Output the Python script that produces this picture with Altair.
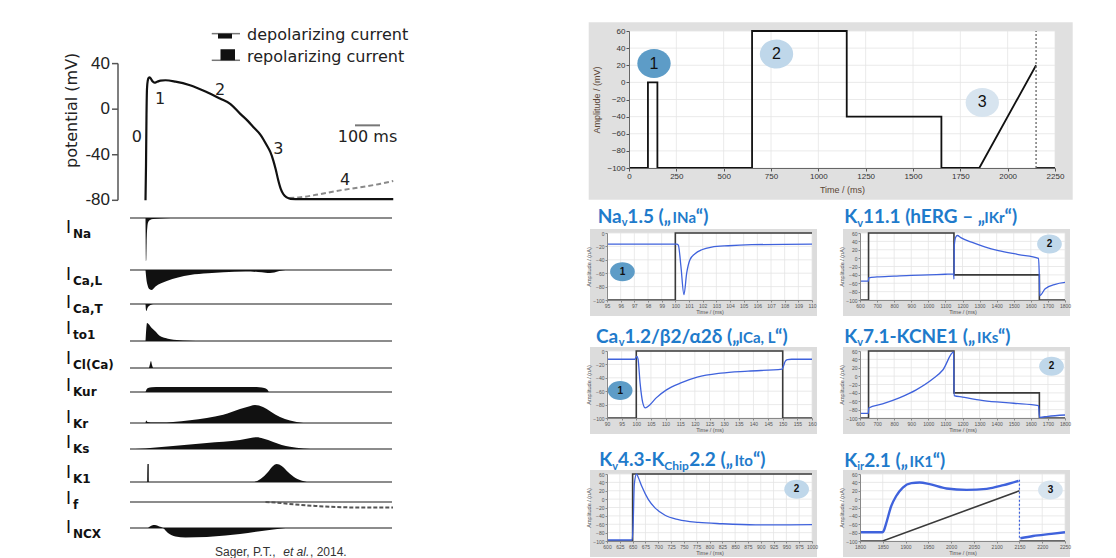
import altair as alt
import pandas as pd

# ============================ DATA ============================
# ---- Left: ventricular action potential (t in ms, v in mV)
AP_T = [0, 2, 4, 6, 9, 13, 17, 22, 28, 36, 46, 60, 80, 120, 178, 240, 298, 340, 378, 410, 431, 460, 485, 500, 511, 521, 531, 541, 551, 565, 580, 620, 991]
AP_V = [-80, -50, -5, 18, 25, 27.5, 28, 26.5, 24.5, 23.3, 24, 25, 25.4, 24.2, 21, 15.5, 9.3, 4.5, -3.9, -10.5, -15.6, -22.5, -31.7, -38, -44.9, -53, -62.4, -70, -74.5, -77.5, -78.7, -79, -79]
AP4_T = [575, 620, 700, 778, 860, 940, 991]
AP4_V = [-78, -77.3, -74.5, -71.3, -68.5, -65.5, -63]
PHASE_TXT = ["0", "1", "2", "3", "4"]
PHASE_T = [-35, 58, 298, 531, 798]
PHASE_V = [-24.4, 9.3, 16.6, -34.6, -62.5]
AP_TICKS = [-80, -40, 0, 40]
AP_TITLE = "potential (mV)"
LEG_TXT = ["depolarizing current", "repolarizing current"]
LEG_T = [406, 406]
LEG_V = [64.8, 45.5]
LEG_LINE_V = [66.3, 42.9]
LEG_BOX_T1 = [290, 300]
LEG_BOX_T2 = [346, 358]
LEG_BOX_V1 = [66.3, 52.6]
LEG_BOX_V2 = [62.0, 42.9]
SCALEBAR_T = [838, 938]
SCALEBAR_V = -14.2
SCALEBAR_TXT = "100 ms"

# ---- Left: ionic currents (amplitude, + = outward/up)
CUR_NAMES = ["Na", "Ca,L", "Ca,T", "to1", "Cl(Ca)", "Kur", "Kr", "Ks", "K1", "f", "NCX"]
CUR_BASE = [17, 69, 103, 140, 167, 191, 222, 248, 281, 301, 327]
CUR_LABEL_U = [27, 74, 102, 128, 158, 185, 217, 242, 272, 298, 327]
INA_T = [0, 1.5, 3, 4.5, 7, 11, 18, 30, 60, 100]
INA_A = [0, -43, -42, -25, -10, -4, -2, -1, -0.4, 0]
ICAL_T = [0, 3, 8, 15, 25, 40, 60, 85, 130, 178, 250, 312, 400, 450, 480, 498, 515, 535, 560]
ICAL_A = [0, -8, -15, -19, -20, -16.5, -13.5, -11, -7.5, -5, -3.3, -2.3, -1.6, -2, -2.7, -3, -2.5, -1, 0]
ICAT_T = [0, 2, 4, 8, 14, 22, 32]
ICAT_A = [0, -6, -7, -4, -2, -0.7, 0]
ITO_T = [0, 3, 6, 12, 25, 38, 58, 80, 100, 150, 200]
ITO_A = [0, 12, 18, 17, 13, 10, 5, 3, 1.7, 0.5, 0]
ICLCA_T = [14, 18, 22, 26, 30]
ICLCA_A = [0, 4, 7, 3, 0]
IKUR_T = [0, 4, 10, 25, 60, 200, 400, 455, 475, 487, 493]
IKUR_A = [0, 2.5, 4, 4.8, 5, 5, 5, 4.8, 4, 2.5, 0]
IKR_T = [0, 3, 8, 20, 60, 110, 178, 245, 311, 378, 420, 438, 470, 500, 538, 578, 631]
IKR_A = [0, 2.5, 1, 0.5, 0.4, 1, 2.7, 5, 8.3, 14, 17, 18, 16, 11.5, 6, 2.5, 0]
IKS_T = [-40, 0, 18, 110, 245, 378, 420, 445, 470, 511, 545, 578, 631, 660]
IKS_A = [0, 0.5, 1, 3, 6, 9, 11, 11.7, 10.5, 7, 4, 2.2, 0.5, 0]
IK1_T = [5, 7, 8, 13, 14, 16, 430, 460, 490, 510, 525, 545, 570, 600, 630, 645]
IK1_A = [0, 0, 18, 18, 0, 0, 0, 3, 10, 16, 18, 16, 10, 4, 1, 0]
IF_T = [480, 540, 600, 680, 760, 850, 990]
IF_A = [0, -1, -2.5, -4, -5, -5.5, -5.5]
INCX_T = [10, 25, 38, 55, 70, 90, 120, 160, 245, 320, 378, 450, 511, 560]
INCX_A = [0, 2.5, 3, 1.5, 0, -5, -8.5, -9.5, -9, -7.5, -6, -3.5, -1.5, 0]
CITE_TXT = ["Sager, P.T., ", "et al.", ", 2014."]
CITE_T = [278, 551, 658]

# ---- Right: voltage protocol
PROTO_T = [0, 100, 100, 150, 150, 650, 650, 1150, 1150, 1650, 1650, 1850, 2150]
PROTO_V = [-100, -100, 0, 0, -100, -100, 60, 60, -40, -40, -100, -100, 20]
PROTO_TAIL_T = [2150, 2250]
PROTO_TAIL_V = [-100, -100]
PROTO_XTICKS = list(range(0, 2251, 250))
PROTO_YTICKS = list(range(-100, 61, 20))
STEP_TXT = ["1", "2", "3"]
STEP_T = [132, 779, 1866]
STEP_V = [22, 33, -23.4]

# ---- Right: recorded currents
NA_T = [95, 100.1, 100.22, 100.41, 100.63, 100.83, 101.07, 101.44, 101.93, 102.66, 103.88, 105.59, 110]
NA_I = [-16.5, -16.5, -18, -50, -92, -60, -40, -31, -25, -21, -19, -17.5, -16.5]
NA_PT = [95, 100, 100, 110]
NA_PV = [-100, -100, 0, 0]
KR_T = [600, 649, 651, 700, 800, 900, 1000, 1100, 1148, 1150, 1152, 1160, 1170, 1190, 1253, 1330, 1410, 1528, 1645, 1650, 1652, 1684, 1743, 1800]
KR_I = [-55, -55, -47, -45, -43, -41, -40, -38.5, -38, -50, 30, 50, 54, 49, 38, 27, 18, 8.5, -0.5, -50, -90, -73, -62.4, -58]
KR_PT = [600, 650, 650, 1150, 1150, 1650, 1650, 1800]
KR_PV = [-100, -100, 60, 60, -40, -40, -100, -100]
CA_T = [90, 99.5, 100.2, 100.6, 101.3, 102.2, 103.1, 104.5, 106.8, 110.3, 115, 120.8, 128.9, 138.2, 149.8, 150.3, 150.9, 151.6, 153, 160]
CA_I = [-12.3, -12.3, -8, -12, -48, -77, -85, -81, -70, -58, -48, -39, -33, -30, -27, -22, -15, -13, -12.3, -12.3]
CA_PT = [90, 100, 100, 150, 150, 160]
CA_PV = [-100, -100, 0, 0, -100, -100]
KS_T = [600, 649, 651, 732, 830, 929, 1027, 1086, 1148, 1151, 1200, 1322, 1500, 1645, 1651, 1700, 1800]
KS_I = [-89, -89, -76, -66.4, -52, -32.8, -6.4, 15.2, 57.6, -46.4, -50, -58.4, -64.8, -70.4, -98.4, -96, -92.8]
KS_PT = [600, 650, 650, 1150, 1150, 1650, 1650, 1800]
KS_PV = [-100, -100, 60, 60, -40, -40, -100, -100]
TO_T = [600, 649, 651, 653.3, 657.6, 660.9, 667.4, 680.5, 693.6, 713.3, 739.4, 778.7, 824.5, 890, 955.5, 1000]
TO_I = [-97.6, -97.6, -60, 35.8, 60, 52, 31.7, -0.6, -20.8, -38.6, -49, -55.6, -58.8, -61.3, -61.3, -61]
TO_PT = [600, 650, 650, 1000]
TO_PV = [-100, -100, 60, 60]
K1_T = [1800, 1849, 1852, 1857, 1868.5, 1879.5, 1894, 1912.7, 1931, 1953, 1990, 2034, 2078, 2115, 2148]
K1_I = [-79, -79, -76, -59.6, -16.8, 7.5, 27.7, 38.2, 39.8, 35.8, 25.3, 22, 24.5, 33.4, 43.8]
K1_T2 = [2152, 2180, 2220, 2250]
K1_I2 = [-93.5, -88, -83, -79]
K1_JUMP_T = [2150, 2150]
K1_JUMP_I = [46, -94]
K1_PT = [1800, 1850, 2150]
K1_PV = [-100, -100, 20]
K1_PT2 = [2150, 2250]
K1_PV2 = [-100, -100]

# ============================ STYLE ============================
LEFT_FONT = "DejaVu Sans"
NUM_FONT = "Liberation Sans"
TITLE_FONT = "Lato"
BLUE = "#3f62dc"
TBLUE = "#1f7bcb"
GRAY_BOX = "#dcdcdc"
GRID = "#e4e4e4"
CIRC_FILL = {"1": "#5d9cc7", "2": "#bfd7ea", "3": "#d7e4ef"}
ELL_BIG = "M -1.15 0 A 1.15 1 0 1 1 1.15 0 A 1.15 1 0 1 1 -1.15 0 Z"
ELL_SMALL = "M -1.3 0 A 1.3 1 0 1 1 1.3 0 A 1.3 1 0 1 1 -1.3 0 Z"
# approximate advance widths (em) of Lato Bold, used to chain title pieces
LATO_W = {'N': 0.74, 'a': 0.52, 'v': 0.52, '1': 0.58, '2': 0.58, '3': 0.58, '4': 0.58, '5': 0.58,
          '7': 0.58, '.': 0.24, ' ': 0.19, '(': 0.32, ')': 0.32, '„': 0.47, '“': 0.47, 'I': 0.29,
          'K': 0.68, 'h': 0.57, 'E': 0.58, 'R': 0.63, 'G': 0.72, '–': 0.55, 'r': 0.38, 's': 0.43,
          '-': 0.36, 'C': 0.68, '/': 0.37, 'β': 0.58, 'α': 0.58, 'δ': 0.56, ',': 0.24, 'L': 0.52,
          'i': 0.26, 'p': 0.57, 't': 0.37, 'o': 0.57}
TSIZE = {"m": 19, "s": 11, "i": 15, "c": 12}
TDY = {"m": 0, "s": 3.5, "i": 0, "c": 4}


def seg_df(segments):
    rows = []
    for s, (ts, vs) in enumerate(segments):
        for i, (t, v) in enumerate(zip(ts, vs)):
            rows.append({"x": t, "y": v, "seg": s, "i": i})
    return pd.DataFrame(rows)


# ============================ LAYOUT ============================
TOP = 20
LEFT_X0 = 60
AP_TOP = 30.7
AP_BOTTOM = 200
RX0 = 606
PROTO_X, PROTO_Y = 628, AP_TOP
PW, PH = 426, 137
SW, SH = 205, 67
GAP = 48
ROW_Y = [232, 350, 473]
LEFT_EXT = 24
PAD_L, PAD_R, PAD_T, PAD_B = 40.3, 17.7, 8.7, 31.7
SPAD_L, SPAD_R, SPAD_T, SPAD_B = 17, 5, 4, 16

# ============================ LEFT PANEL ============================
LW, CUR_H = 370, 350
AP_H = AP_BOTTOM - AP_TOP
MS_PER_PX = 4
MV_PER_PX = 120 / 136.7
T_DOM = [-342, -342 + LW * MS_PER_PX]
apx = alt.Scale(domain=T_DOM, nice=False, zero=False)
apy = alt.Scale(domain=[-80, -80 + AP_H * MV_PER_PX], nice=False, zero=False)
AX_T = -110


def XT(f="t"):
    return alt.X(f + ":Q", scale=apx, axis=None)


def YV(f="v"):
    return alt.Y(f + ":Q", scale=apy, axis=None)


ax_df = pd.DataFrame({"v": AP_TICKS, "t0": [AX_T - 6 * MS_PER_PX] * 4, "t1": [AX_T] * 4,
                      "tl": [AX_T - 8 * MS_PER_PX] * 4, "lab": [str(v) for v in AP_TICKS]})
axis_rule = alt.Chart(pd.DataFrame({"t": [AX_T], "v": [AP_TICKS[0]], "v2": [AP_TICKS[-1]]})).mark_rule(
    color="#555", strokeWidth=1.5).encode(x=XT(), y=YV(), y2="v2:Q")
axis_ticks = alt.Chart(ax_df).mark_rule(color="#555", strokeWidth=1.5).encode(x=XT("t0"), x2="t1:Q", y=YV())
axis_labels = alt.Chart(ax_df).mark_text(font=NUM_FONT, fontSize=17, align="right", baseline="middle",
                                         color="#222").encode(x=XT("tl"), y=YV(), text="lab:N")
axis_title = alt.Chart(pd.DataFrame({"t": [-294], "v": [-1], "text": [AP_TITLE]})).mark_text(
    font=LEFT_FONT, fontSize=16, angle=270, align="center", baseline="middle", color="#222").encode(
    x=XT(), y=YV(), text="text:N")

ap4 = alt.Chart(pd.DataFrame({"t": AP4_T, "v": AP4_V})).mark_line(
    color="#8a8a8a", strokeWidth=2, strokeDash=[5, 3], interpolate="monotone").encode(x=XT(), y=YV())
ap_line = alt.Chart(pd.DataFrame({"t": AP_T, "v": AP_V})).mark_line(
    color="#111", strokeWidth=2.2, interpolate="monotone").encode(x=XT(), y=YV())

leg_df = pd.DataFrame({"t": LEG_T, "v": LEG_V, "text": LEG_TXT, "lv": LEG_LINE_V,
                       "b1": LEG_BOX_T1, "b2": LEG_BOX_T2, "bv1": LEG_BOX_V1, "bv2": LEG_BOX_V2,
                       "l1": [265, 265], "l2": [378, 378]})
leg_line = alt.Chart(leg_df).mark_rule(color="#777", strokeWidth=1.5).encode(x=XT("l1"), x2="l2:Q", y=YV("lv"))
leg_box = alt.Chart(leg_df).mark_rect(color="#111").encode(x=XT("b1"), x2="b2:Q", y=YV("bv1"), y2="bv2:Q")
leg_txt = alt.Chart(leg_df).mark_text(align="left", baseline="middle", font=LEFT_FONT, fontSize=16,
                                      color="#222").encode(x=XT(), y=YV(), text="text:N")

ph = alt.Chart(pd.DataFrame({"t": PHASE_T, "v": PHASE_V, "text": PHASE_TXT})).mark_text(
    font=LEFT_FONT, fontSize=16, color="#222", baseline="middle").encode(x=XT(), y=YV(), text="text:N")

sb_df = pd.DataFrame({"t": [SCALEBAR_T[0]], "t2": [SCALEBAR_T[1]], "v": [SCALEBAR_V],
                      "tm": [sum(SCALEBAR_T) / 2], "vt": [SCALEBAR_V - 10.5], "text": [SCALEBAR_TXT]})
sb = alt.Chart(sb_df).mark_rule(color="#777", strokeWidth=2).encode(x=XT(), x2="t2:Q", y=YV())
sb_txt = alt.Chart(sb_df).mark_text(font=LEFT_FONT, fontSize=16, color="#222", baseline="middle").encode(
    x=XT("tm"), y=YV("vt"), text="text:N")

ap_chart = alt.layer(axis_rule, axis_ticks, axis_labels, axis_title, ap4, ap_line, leg_line, leg_box,
                     leg_txt, ph, sb, sb_txt).properties(width=LW, height=AP_H)

# currents
cury = alt.Scale(domain=[CUR_H, 0], nice=False, zero=False)


def YU(f="u"):
    return alt.Y(f + ":Q", scale=cury, axis=None)


SHAPES = {"Na": (INA_T, INA_A), "Ca,L": (ICAL_T, ICAL_A), "Ca,T": (ICAT_T, ICAT_A),
          "to1": (ITO_T, ITO_A), "Cl(Ca)": (ICLCA_T, ICLCA_A), "Kur": (IKUR_T, IKUR_A),
          "Kr": (IKR_T, IKR_A), "Ks": (IKS_T, IKS_A), "K1": (IK1_T, IK1_A), "NCX": (INCX_T, INCX_A)}
rows = []
for name, base in zip(CUR_NAMES, CUR_BASE):
    if name not in SHAPES:
        continue
    ts, amps = SHAPES[name]
    for t, a in zip(ts, amps):
        rows.append({"name": name, "t": t, "u": base - a, "base": base})
cur_df = pd.DataFrame(rows)
n_cur = len(CUR_NAMES)
base_df = pd.DataFrame({"name": CUR_NAMES, "base": CUR_BASE, "t0": [-62] * n_cur, "t1": [986] * n_cur,
                        "lu": CUR_LABEL_U, "li": [-308] * n_cur, "ls": [-290] * n_cur, "I": ["I"] * n_cur})
if_base = CUR_BASE[CUR_NAMES.index("f")]
if_df = pd.DataFrame({"t": IF_T, "u": [if_base - a for a in IF_A]})

base_rules = alt.Chart(base_df).mark_rule(color="#8c8c8c", strokeWidth=2).encode(
    x=XT("t0"), x2="t1:Q", y=YU("base"))
areas = alt.Chart(cur_df).mark_area(color="#111", interpolate="monotone", opacity=1).encode(
    x=XT(), y=YU(), y2="base:Q", detail="name:N")
if_line = alt.Chart(if_df).mark_line(color="#555", strokeWidth=2, strokeDash=[4, 2],
                                     interpolate="monotone").encode(x=XT(), y=YU())
lab_i = alt.Chart(base_df).mark_text(font=LEFT_FONT, fontSize=17, baseline="middle", color="#111").encode(
    x=XT("li"), y=YU("lu"), text="I:N")
lab_s = alt.Chart(base_df).mark_text(font=LEFT_FONT, fontSize=12, fontWeight="bold", align="left",
                                     baseline="middle", dy=6, color="#111").encode(
    x=XT("ls"), y=YU("lu"), text="name:N")
cite_df = pd.DataFrame({"t": CITE_T, "u": [CUR_H + 1] * 3, "text": CITE_TXT, "it": [0, 1, 0]})
cite_n = alt.Chart(cite_df).transform_filter("datum.it == 0").mark_text(
    font=NUM_FONT, fontSize=12, align="left", baseline="middle", color="#333").encode(
    x=XT(), y=YU(), text="text:N")
cite_i = alt.Chart(cite_df).transform_filter("datum.it == 1").mark_text(
    font=NUM_FONT, fontSize=12, fontStyle="italic", align="left", baseline="middle", color="#333").encode(
    x=XT(), y=YU(), text="text:N")

cur_chart = alt.layer(base_rules, areas, if_line, lab_i, lab_s, cite_n, cite_i).properties(
    width=LW, height=CUR_H)

left_col = alt.vconcat(ap_chart, cur_chart, spacing=0, bounds="flush")

# ============================ RIGHT: PROTOCOL ============================
pxd, pyd = [0, 2250], [-100, 60]
ppx, ppy = PW / (pxd[1] - pxd[0]), PH / (pyd[1] - pyd[0])
pxs = alt.Scale(domain=pxd, nice=False, zero=False)
pys = alt.Scale(domain=pyd, nice=False, zero=False)
big_axis = dict(labelFont=NUM_FONT, labelFontSize=8, labelColor="#333", labelPadding=1, tickSize=3,
                tickColor="#555", domainColor="#666", grid=False, titleFont=NUM_FONT,
                titleFontSize=9, titleColor="#5a4535", titleFontWeight="normal", format="d",
                labelFlush=False, labelOverlap=False, zindex=1, titlePadding=5)
pxa = alt.Axis(values=PROTO_XTICKS, title="Time / (ms)", **big_axis)
pya = alt.Axis(values=PROTO_YTICKS, title="Amplitude / (mV)", **big_axis)


def PX(f):
    return alt.X(f + ":Q", scale=pxs, axis=pxa)


def PY(f):
    return alt.Y(f + ":Q", scale=pys, axis=pya)


def grid_layers(X, Y, xd, yd, xticks, yticks):
    gx = pd.DataFrame({"x": xticks, "y": [yd[0]] * len(xticks), "y2": [yd[1]] * len(xticks)})
    gy = pd.DataFrame({"y": yticks, "x": [xd[0]] * len(yticks), "x2": [xd[1]] * len(yticks)})
    return [alt.Chart(gx).mark_rule(color=GRID, strokeWidth=0.8).encode(x=X("x"), y=Y("y"), y2="y2:Q"),
            alt.Chart(gy).mark_rule(color=GRID, strokeWidth=0.8).encode(y=Y("y"), x=X("x"), x2="x2:Q")]


lead = PROTO_X - RX0
p_bg = alt.Chart(pd.DataFrame({"x": [pxd[0] - (LEFT_EXT + lead) / ppx], "x2": [pxd[1] + PAD_R / ppx],
                               "y": [pyd[0] - PAD_B / ppy], "y2": [pyd[1] + (PROTO_Y - TOP) / ppy]})).mark_rect(
    color="white").encode(x=PX("x"), x2="x2:Q", y=PY("y"), y2="y2:Q")
p_gray = alt.Chart(pd.DataFrame({"x": [pxd[0] - PAD_L / ppx], "x2": [pxd[1] + PAD_R / ppx],
                                 "y": [pyd[0] - PAD_B / ppy], "y2": [pyd[1] + PAD_T / ppy]})).mark_rect(
    color="#e0e0e0").encode(x=PX("x"), x2="x2:Q", y=PY("y"), y2="y2:Q")
p_white = alt.Chart(pd.DataFrame({"x": [pxd[0]], "x2": [pxd[1]], "y": [pyd[0]], "y2": [pyd[1]]})).mark_rect(
    color="white").encode(x=PX("x"), x2="x2:Q", y=PY("y"), y2="y2:Q")
p_line = alt.Chart(seg_df([(PROTO_T, PROTO_V), (PROTO_TAIL_T, PROTO_TAIL_V)])).mark_line(
    color="#111", strokeWidth=1.8).encode(x=PX("x"), y=PY("y"), detail="seg:N", order="i:Q")
p_dot = alt.Chart(pd.DataFrame({"x": [PROTO_T[-1]], "y": [pyd[0]], "y2": [pyd[1]]})).mark_rule(
    color="#666", strokeWidth=1.3, strokeDash=[2, 2]).encode(x=PX("x"), y=PY("y"), y2="y2:Q")
step_df = pd.DataFrame({"x": STEP_T, "y": STEP_V, "text": STEP_TXT,
                        "c": [CIRC_FILL[s] for s in STEP_TXT]})
p_ell = alt.Chart(step_df).mark_point(shape=ELL_BIG, filled=True, opacity=1, size=841, strokeWidth=0).encode(
    x=PX("x"), y=PY("y"), color=alt.Color("c:N", scale=None))
p_num = alt.Chart(step_df).mark_text(font=NUM_FONT, fontSize=16, color="#111", baseline="middle").encode(
    x=PX("x"), y=PY("y"), text="text:N")
proto_chart = alt.layer(p_bg, p_gray, p_white, *grid_layers(PX, PY, pxd, pyd, PROTO_XTICKS, PROTO_YTICKS),
                        p_line, p_dot, p_ell, p_num).properties(width=PW, height=PH)

# ============================ RIGHT: SMALL PANELS ============================
small_axis = dict(labelFont=NUM_FONT, labelFontSize=5, labelColor="#555", labelPadding=1, tickSize=2,
                  tickColor="#888", domainColor="#888", grid=False, titleFont=NUM_FONT, format="d",
                  titleFontSize=5.5, titleColor="#555", titleFontWeight="normal", titlePadding=1.5,
                  labelFlush=False, labelOverlap=False, zindex=1)

PANELS = [
    dict(xdom=[95, 110], xticks=list(range(95, 111)), ydom=[-100, 0], yticks=list(range(-100, 1, 20)),
         trace=[(NA_T, NA_I)], proto=[(NA_PT, NA_PV)], jump=None, circ=(96.13, -57.8, "1"), tw=1.3,
         row=0, col=0, tx=596.7, ty=221.5,
         title=[("Na", "m"), ("v", "s"), ("1.5 („", "m"), ("INa", "i"), ("“)", "m")]),
    dict(xdom=[600, 1800], xticks=list(range(600, 1801, 100)), ydom=[-100, 60],
         yticks=list(range(-100, 61, 20)), trace=[(KR_T, KR_I)], proto=[(KR_PT, KR_PV)], jump=None,
         circ=(1709, 34, "2"), tw=1.3, row=0, col=1, tx=843.3, ty=222,
         title=[("K", "m"), ("v", "s"), ("11.1 (hERG – „", "m"), ("IKr", "i"), ("“)", "m")]),
    dict(xdom=[90, 160], xticks=list(range(90, 161, 5)), ydom=[-100, 0], yticks=list(range(-100, 1, 20)),
         trace=[(CA_T, CA_I)], proto=[(CA_PT, CA_PV)], jump=None, circ=(94.5, -59, "1"), tw=1.3,
         row=1, col=0, tx=595, ty=341.5,
         title=[("Ca", "m"), ("v", "s"), ("1.2/β2/α2δ („", "m"), ("ICa, L", "i"), ("“)", "m")]),
    dict(xdom=[600, 1800], xticks=list(range(600, 1801, 100)), ydom=[-100, 60],
         yticks=list(range(-100, 61, 20)), trace=[(KS_T, KS_I)], proto=[(KS_PT, KS_PV)], jump=None,
         circ=(1721, 23.6, "2"), tw=1.3, row=1, col=1, tx=843.3, ty=341.5,
         title=[("K", "m"), ("v", "s"), ("7.1-KCNE1 („", "m"), ("IKs", "i"), ("“)", "m")]),
    dict(xdom=[600, 1000], xticks=list(range(600, 1001, 25)), ydom=[-100, 60],
         yticks=list(range(-100, 61, 20)), trace=[(TO_T, TO_I)], proto=[(TO_PT, TO_PV)], jump=None,
         circ=(970, 23.6, "2"), tw=1.3, row=2, col=0, tx=598.3, ty=465,
         title=[("K", "m"), ("v", "s"), ("4.3-K", "m"), ("Chip", "c"), ("2.2 („", "m"), ("Ito", "i"), ("“)", "m")]),
    dict(xdom=[1800, 2250], xticks=list(range(1800, 2251, 50)), ydom=[-100, 60],
         yticks=list(range(-100, 61, 20)), trace=[(K1_T, K1_I), (K1_T2, K1_I2)],
         proto=[(K1_PT, K1_PV), (K1_PT2, K1_PV2)], jump=(K1_JUMP_T, K1_JUMP_I),
         circ=(2218, 21.6, "3"), tw=2.4, row=2, col=1, tx=843.3, ty=465.5,
         title=[("K", "m"), ("ir", "s"), ("2.1 („", "m"), ("IK1", "i"), ("“)", "m")]),
]

row_bottom_prev = [PROTO_Y + PH + PAD_B, ROW_Y[0] + SH + SPAD_B, ROW_Y[1] + SH + SPAD_B]
ROW_TOP_EXT = [ROW_Y[i] - row_bottom_prev[i] for i in range(3)]


def make_panel(p):
    xd, yd = p["xdom"], p["ydom"]
    sx, sy = SW / (xd[1] - xd[0]), SH / (yd[1] - yd[0])
    xs = alt.Scale(domain=xd, nice=False, zero=False)
    ys = alt.Scale(domain=yd, nice=False, zero=False)
    xa = alt.Axis(values=p["xticks"], title="Time / (ms)", **small_axis)
    ya = alt.Axis(values=p["yticks"], title="Amplitude / (nA)", **small_axis)

    def X(f):
        return alt.X(f + ":Q", scale=xs, axis=xa)

    def Y(f):
        return alt.Y(f + ":Q", scale=ys, axis=ya)

    top_ext = ROW_TOP_EXT[p["row"]]
    bg = alt.Chart(pd.DataFrame({"x": [xd[0] - LEFT_EXT / sx], "x2": [xd[1] + SPAD_R / sx],
                                 "y": [yd[0] - SPAD_B / sy], "y2": [yd[1] + top_ext / sy]})).mark_rect(
        color="white").encode(x=X("x"), x2="x2:Q", y=Y("y"), y2="y2:Q")
    gray = alt.Chart(pd.DataFrame({"x": [xd[0] - SPAD_L / sx], "x2": [xd[1] + SPAD_R / sx],
                                   "y": [yd[0] - SPAD_B / sy], "y2": [yd[1] + SPAD_T / sy]})).mark_rect(
        color=GRAY_BOX).encode(x=X("x"), x2="x2:Q", y=Y("y"), y2="y2:Q")
    white = alt.Chart(pd.DataFrame({"x": [xd[0]], "x2": [xd[1]], "y": [yd[0]], "y2": [yd[1]]})).mark_rect(
        color="white").encode(x=X("x"), x2="x2:Q", y=Y("y"), y2="y2:Q")
    proto = alt.Chart(seg_df(p["proto"])).mark_line(color="#3a3a3a", strokeWidth=1.6).encode(
        x=X("x"), y=Y("y"), detail="seg:N", order="i:Q")
    trace = alt.Chart(seg_df(p["trace"])).mark_line(color=BLUE, strokeWidth=p["tw"], interpolate="monotone").encode(
        x=X("x"), y=Y("y"), detail="seg:N", order="i:Q")
    layers = [bg, gray, white] + grid_layers(X, Y, xd, yd, p["xticks"], p["yticks"]) + [proto, trace]
    if p["jump"] is not None:
        jt, ji = p["jump"]
        layers.append(alt.Chart(pd.DataFrame({"x": [jt[0]], "y": [ji[0]], "y2": [ji[1]]})).mark_rule(
            color=BLUE, strokeWidth=1.2, strokeDash=[2, 2]).encode(x=X("x"), y=Y("y"), y2="y2:Q"))
    cx, cy, ct = p["circ"]
    cdf = pd.DataFrame({"x": [cx], "y": [cy], "text": [ct], "c": [CIRC_FILL[ct]]})
    layers.append(alt.Chart(cdf).mark_point(shape=ELL_SMALL, filled=True, opacity=1, size=361, strokeWidth=0).encode(
        x=X("x"), y=Y("y"), color=alt.Color("c:N", scale=None)))
    layers.append(alt.Chart(cdf).mark_text(font=NUM_FONT, fontSize=10, fontWeight="bold", color="#111",
                                           baseline="middle").encode(x=X("x"), y=Y("y"), text="text:N"))
    ox = RX0 + p["col"] * (SW + GAP)
    oy = ROW_Y[p["row"]]
    px = p["tx"]
    trows = []
    for text, kind in p["title"]:
        fs = TSIZE[kind]
        trows.append({"x": xd[0] + (px - ox) / sx, "y": yd[1] + (oy - p["ty"] - TDY[kind]) / sy,
                      "text": text, "fs": fs})
        px += sum(LATO_W.get(c, 0.55) for c in text) * fs
    layers.append(alt.Chart(pd.DataFrame(trows)).mark_text(align="left", baseline="alphabetic", font=TITLE_FONT,
                                                           fontWeight="bold", color=TBLUE).encode(
        x=X("x"), y=Y("y"), text="text:N", size=alt.Size("fs:Q", scale=None)))
    return alt.layer(*layers).properties(width=SW, height=SH)


def spacer(w, h):
    return alt.Chart(pd.DataFrame({"s": [0]})).mark_point(opacity=0).properties(width=w, height=h)


panels = [make_panel(p) for p in PANELS]
row0 = alt.hconcat(spacer(lead, 1), proto_chart, spacing=0, bounds="flush")
row1 = alt.hconcat(panels[0], panels[1], spacing=GAP, bounds="flush")
row2 = alt.hconcat(panels[2], panels[3], spacing=GAP, bounds="flush")
row3 = alt.hconcat(panels[4], panels[5], spacing=GAP, bounds="flush")
right_col = alt.vconcat(row0, row1, row2, row3, spacing=0)

outer_gap = RX0 - LEFT_EXT - (LEFT_X0 + LW)
chart = alt.hconcat(left_col, right_col, spacing=outer_gap).properties(
    padding={"left": LEFT_X0, "top": TOP, "right": 0, "bottom": 0}, background="white"
).configure_view(stroke=None, strokeWidth=0)

chart.save("out.html", embed_options={"renderer": "svg", "actions": False})
